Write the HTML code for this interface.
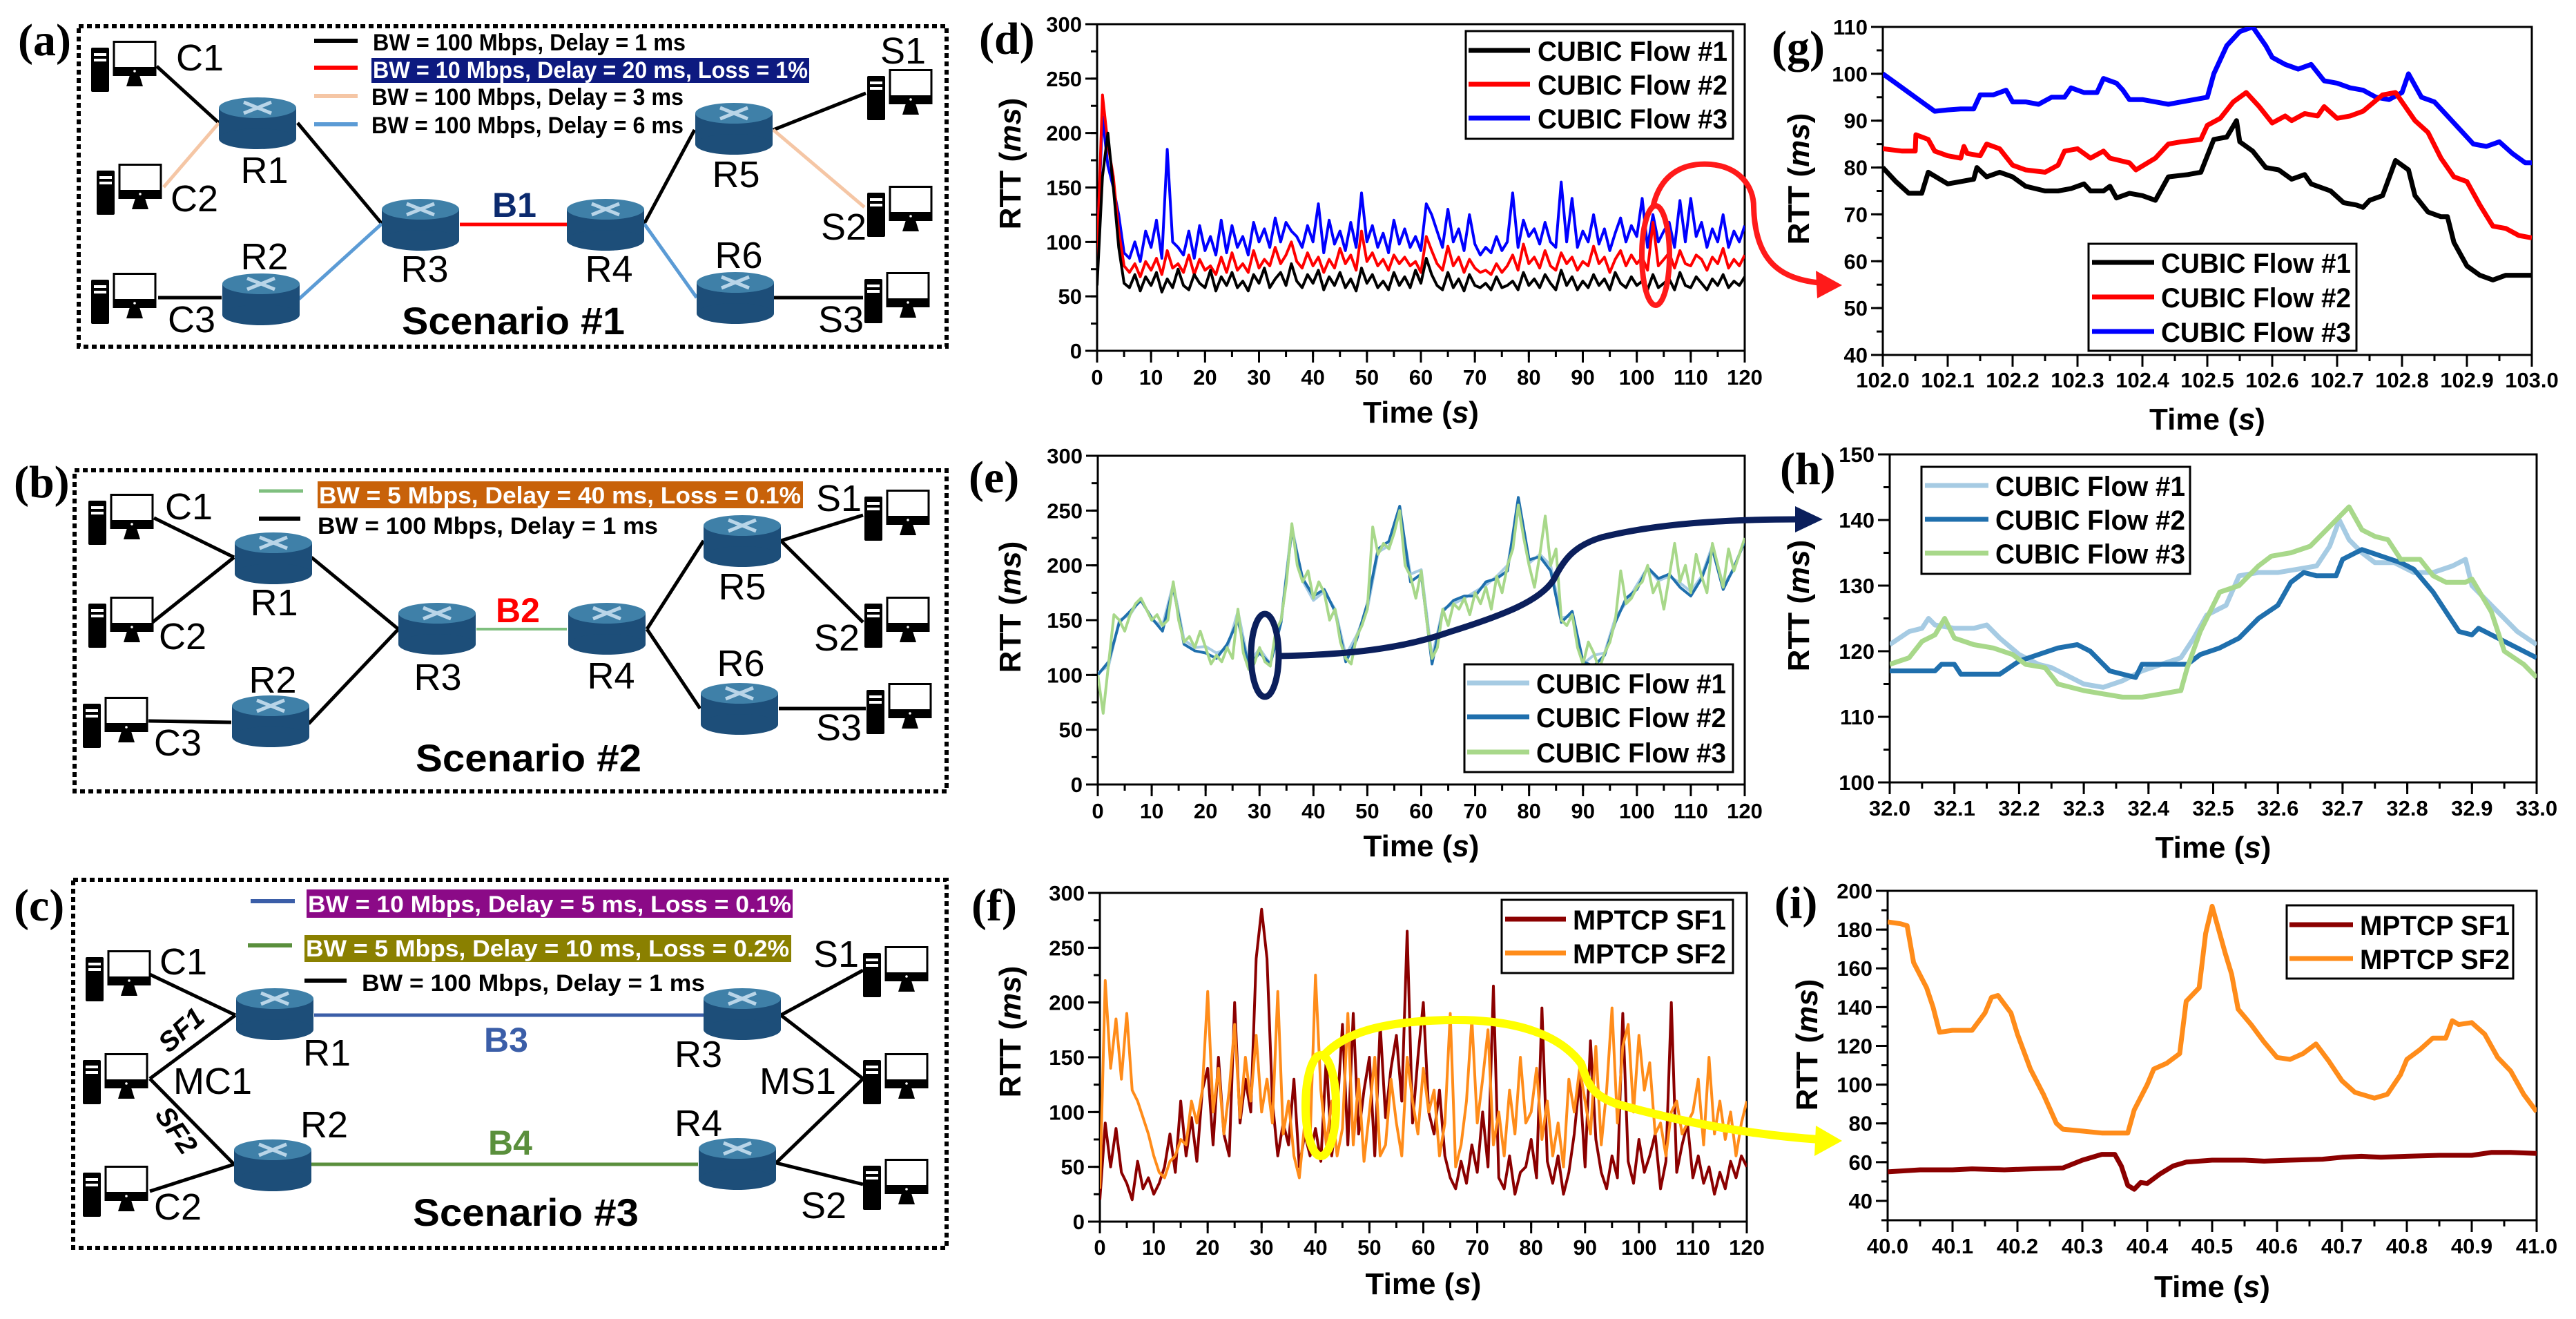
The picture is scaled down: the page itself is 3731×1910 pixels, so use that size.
<!DOCTYPE html>
<html><head><meta charset="utf-8"><title>RTT scenarios</title>
<style>
html,body{margin:0;padding:0;background:#fff;}
svg{display:block;font-family:"Liberation Sans",Arial,sans-serif;}
.node{font-size:54px;fill:#000;}
.leg{font-size:34px;font-weight:bold;}
.scn{font-size:56px;font-weight:bold;}
.plet{font-family:"Liberation Serif",serif;font-weight:bold;font-size:66px;}
.tick{font-size:31px;font-weight:bold;}
.atitle{font-size:44px;font-weight:bold;}
.ltxt{font-size:40px;font-weight:bold;}
</style></head>
<body>
<svg id="fig" xmlns="http://www.w3.org/2000/svg" width="3731" height="1910" viewBox="0 0 3731 1910">
<defs>
<symbol id="router" viewBox="0 0 112 75">
<rect x="0" y="15" width="112" height="45" fill="#1d4e79"/>
<ellipse cx="56" cy="60" rx="56" ry="15" fill="#1d4e79"/>
<ellipse cx="56" cy="15" rx="56" ry="15" fill="#3f80a8"/>
<path d="M36 7 L76 23 M76 7 L36 23" stroke="#b9d5e8" stroke-width="5"/>
</symbol>
<symbol id="pc" viewBox="0 0 95 74">
<rect x="0" y="10" width="26" height="64" rx="2" fill="#000"/>
<rect x="4" y="18" width="18" height="4" fill="#fff"/><rect x="4" y="26" width="18" height="4" fill="#fff"/>
<rect x="33" y="1.5" width="60" height="48" fill="#fff" stroke="#000" stroke-width="3"/>
<rect x="33" y="38" width="61" height="12" fill="#000"/>
<circle cx="63" cy="44" r="1.8" fill="#fff"/>
<polygon points="56,50 70,50 75,66 51,66" fill="#000"/>
</symbol>
</defs>

<!-- ===== Scenario 1 ===== -->
<g>
<rect x="114" y="38" width="1257" height="464" fill="none" stroke="#000" stroke-width="6" stroke-dasharray="7 5"/>
<text class="plet" x="26" y="80">(a)</text>
<g stroke-width="5" fill="none">
<line x1="227" y1="96" x2="317" y2="178" stroke="#000"/>
<line x1="237" y1="271" x2="317" y2="178" stroke="#f5c6a5"/>
<line x1="229" y1="431" x2="321" y2="431" stroke="#000"/>
<line x1="431" y1="178" x2="553" y2="324" stroke="#000"/>
<line x1="433" y1="433" x2="553" y2="324" stroke="#5b9bd5"/>
<line x1="666" y1="325" x2="821" y2="325" stroke="#ff0000"/>
<line x1="933" y1="324" x2="1006" y2="188" stroke="#000"/>
<line x1="933" y1="324" x2="1009" y2="431" stroke="#5b9bd5"/>
<line x1="1120" y1="188" x2="1254" y2="135" stroke="#000"/>
<line x1="1120" y1="188" x2="1252" y2="300" stroke="#f5c6a5"/>
<line x1="1121" y1="431" x2="1250" y2="431" stroke="#000"/>
</g>
<use href="#pc" x="132" y="59" width="95" height="74"/>
<use href="#pc" x="140" y="237" width="95" height="74"/>
<use href="#pc" x="132" y="395" width="95" height="74"/>
<use href="#pc" x="1256" y="100" width="95" height="74"/>
<use href="#pc" x="1256" y="269" width="95" height="74"/>
<use href="#pc" x="1252" y="394" width="95" height="74"/>
<use href="#router" x="317" y="141" width="112" height="75"/>
<use href="#router" x="322" y="396" width="112" height="75"/>
<use href="#router" x="553" y="288" width="112" height="75"/>
<use href="#router" x="821" y="288" width="112" height="75"/>
<use href="#router" x="1007" y="149" width="112" height="75"/>
<use href="#router" x="1009" y="394" width="112" height="75"/>
<text class="node" x="255" y="102">C1</text>
<text class="node" x="247" y="306">C2</text>
<text class="node" x="243" y="481">C3</text>
<text class="node" x="383" y="265" text-anchor="middle">R1</text>
<text class="node" x="383" y="390" text-anchor="middle">R2</text>
<text class="node" x="615" y="408" text-anchor="middle">R3</text>
<text class="node" x="882" y="408" text-anchor="middle">R4</text>
<text class="node" x="1066" y="271" text-anchor="middle">R5</text>
<text class="node" x="1070" y="388" text-anchor="middle">R6</text>
<text class="node" x="1308" y="92" text-anchor="middle">S1</text>
<text class="node" x="1222" y="347" text-anchor="middle">S2</text>
<text class="node" x="1218" y="481" text-anchor="middle">S3</text>
<text x="745" y="314" text-anchor="middle" font-size="50" font-weight="bold" fill="#0b2a6e">B1</text>
<g>
<line x1="455" y1="59" x2="518" y2="59" stroke="#000" stroke-width="6"/>
<line x1="455" y1="98" x2="518" y2="98" stroke="#ff0000" stroke-width="6"/>
<line x1="455" y1="139" x2="518" y2="139" stroke="#f5c6a5" stroke-width="6"/>
<line x1="455" y1="180" x2="518" y2="180" stroke="#5b9bd5" stroke-width="6"/>
<text class="leg" x="540" y="73" textLength="453" lengthAdjust="spacingAndGlyphs">BW = 100 Mbps, Delay = 1 ms</text>
<rect x="538" y="84" width="634" height="36" fill="#0d1a80"/>
<text class="leg" x="540" y="113" fill="#fff" textLength="630" lengthAdjust="spacingAndGlyphs">BW = 10 Mbps, Delay = 20 ms, Loss = 1%</text>
<text class="leg" x="538" y="152" textLength="452" lengthAdjust="spacingAndGlyphs">BW = 100 Mbps, Delay = 3 ms</text>
<text class="leg" x="538" y="193" textLength="452" lengthAdjust="spacingAndGlyphs">BW = 100 Mbps, Delay = 6 ms</text>
</g>
<text class="scn" x="582" y="484" textLength="323" lengthAdjust="spacingAndGlyphs">Scenario #1</text>
</g>

<!-- ===== Scenario 2 ===== -->
<g>
<rect x="108" y="681" width="1263" height="465" fill="none" stroke="#000" stroke-width="6" stroke-dasharray="7 5"/>
<text class="plet" x="20" y="720">(b)</text>
<g stroke-width="5" fill="none" stroke="#000">
<line x1="223" y1="750" x2="339" y2="807"/>
<line x1="221" y1="901" x2="339" y2="807"/>
<line x1="215" y1="1044" x2="335" y2="1046"/>
<line x1="451" y1="807" x2="577" y2="911"/>
<line x1="447" y1="1048" x2="577" y2="911"/>
<line x1="690" y1="911" x2="821" y2="911" stroke="#7fbf7f" stroke-width="4"/>
<line x1="937" y1="911" x2="1019" y2="783"/>
<line x1="937" y1="911" x2="1014" y2="1026"/>
<line x1="1131" y1="783" x2="1250" y2="746"/>
<line x1="1131" y1="783" x2="1250" y2="901"/>
<line x1="1128" y1="1026" x2="1254" y2="1026"/>
</g>
<use href="#pc" x="128" y="715" width="95" height="74"/>
<use href="#pc" x="128" y="864" width="95" height="74"/>
<use href="#pc" x="120" y="1009" width="95" height="74"/>
<use href="#pc" x="1252" y="709" width="95" height="74"/>
<use href="#pc" x="1252" y="864" width="95" height="74"/>
<use href="#pc" x="1255" y="989" width="95" height="74"/>
<use href="#router" x="340" y="771" width="112" height="75"/>
<use href="#router" x="336" y="1007" width="112" height="75"/>
<use href="#router" x="577" y="873" width="112" height="75"/>
<use href="#router" x="823" y="873" width="112" height="75"/>
<use href="#router" x="1019" y="746" width="112" height="75"/>
<use href="#router" x="1015" y="989" width="112" height="75"/>
<text class="node" x="239" y="752">C1</text>
<text class="node" x="230" y="940">C2</text>
<text class="node" x="223" y="1094">C3</text>
<text class="node" x="397" y="891" text-anchor="middle">R1</text>
<text class="node" x="395" y="1003" text-anchor="middle">R2</text>
<text class="node" x="634" y="999" text-anchor="middle">R3</text>
<text class="node" x="885" y="997" text-anchor="middle">R4</text>
<text class="node" x="1075" y="868" text-anchor="middle">R5</text>
<text class="node" x="1073" y="979" text-anchor="middle">R6</text>
<text class="node" x="1215" y="740" text-anchor="middle">S1</text>
<text class="node" x="1212" y="942" text-anchor="middle">S2</text>
<text class="node" x="1215" y="1072" text-anchor="middle">S3</text>
<text x="750" y="901" text-anchor="middle" font-size="50" font-weight="bold" fill="#ff0000">B2</text>
<g>
<line x1="375" y1="711" x2="439" y2="711" stroke="#7fbf7f" stroke-width="5"/>
<rect x="460" y="697" width="703" height="39" fill="#c8620a"/>
<text class="leg" x="462" y="729" fill="#fff" textLength="698" lengthAdjust="spacingAndGlyphs">BW = 5 Mbps, Delay = 40 ms, Loss = 0.1%</text>
<line x1="375" y1="751" x2="435" y2="751" stroke="#000" stroke-width="6"/>
<text class="leg" x="460" y="773" textLength="493" lengthAdjust="spacingAndGlyphs">BW = 100 Mbps, Delay = 1 ms</text>
</g>
<text class="scn" x="602" y="1117" textLength="327" lengthAdjust="spacingAndGlyphs">Scenario #2</text>
</g>

<!-- ===== Scenario 3 ===== -->
<g>
<rect x="106" y="1274" width="1265" height="533" fill="none" stroke="#000" stroke-width="6" stroke-dasharray="7 5"/>
<text class="plet" x="20" y="1333">(c)</text>
<g stroke-width="5" fill="none" stroke="#000">
<line x1="217" y1="1411" x2="341" y2="1470"/>
<line x1="217" y1="1562" x2="341" y2="1470"/>
<line x1="217" y1="1562" x2="339" y2="1686"/>
<line x1="217" y1="1725" x2="339" y2="1686"/>
<line x1="455" y1="1470" x2="1019" y2="1470" stroke="#3b5ea8"/>
<line x1="450" y1="1686" x2="1011" y2="1686" stroke="#5a8f3c"/>
<line x1="1131" y1="1470" x2="1250" y2="1405"/>
<line x1="1131" y1="1470" x2="1250" y2="1562"/>
<line x1="1124" y1="1684" x2="1250" y2="1562"/>
<line x1="1124" y1="1684" x2="1250" y2="1715"/>
</g>
<use href="#pc" x="124" y="1376" width="95" height="74"/>
<use href="#pc" x="120" y="1525" width="95" height="74"/>
<use href="#pc" x="120" y="1688" width="95" height="74"/>
<use href="#pc" x="1250" y="1370" width="95" height="74"/>
<use href="#pc" x="1250" y="1525" width="95" height="74"/>
<use href="#pc" x="1250" y="1678" width="95" height="74"/>
<use href="#router" x="342" y="1431" width="112" height="75"/>
<use href="#router" x="339" y="1650" width="112" height="75"/>
<use href="#router" x="1019" y="1431" width="112" height="75"/>
<use href="#router" x="1012" y="1648" width="112" height="75"/>
<text class="node" x="231" y="1411">C1</text>
<text class="node" x="251" y="1584">MC1</text>
<text class="node" x="223" y="1766">C2</text>
<text class="node" x="439" y="1543">R1</text>
<text class="node" x="435" y="1647">R2</text>
<text class="node" x="977" y="1545">R3</text>
<text class="node" x="977" y="1645">R4</text>
<text class="node" x="1100" y="1584">MS1</text>
<text class="node" x="1178" y="1400">S1</text>
<text class="node" x="1160" y="1764">S2</text>
<text x="263" y="1505" font-size="40" font-weight="bold" font-style="italic" text-anchor="middle" transform="rotate(-42 263 1492)">SF1</text>
<text x="255" y="1650" font-size="40" font-weight="bold" font-style="italic" text-anchor="middle" transform="rotate(55 255 1637)">SF2</text>
<text x="733" y="1523" text-anchor="middle" font-size="50" font-weight="bold" fill="#3b5ea8">B3</text>
<text x="739" y="1672" text-anchor="middle" font-size="50" font-weight="bold" fill="#5a8f3c">B4</text>
<g>
<line x1="363" y1="1305" x2="427" y2="1305" stroke="#3b5ea8" stroke-width="6"/>
<rect x="444" y="1288" width="704" height="41" fill="#8b0a87"/>
<text class="leg" x="446" y="1321" fill="#fff" textLength="700" lengthAdjust="spacingAndGlyphs">BW = 10 Mbps, Delay = 5 ms, Loss = 0.1%</text>
<line x1="359" y1="1369" x2="423" y2="1369" stroke="#5a8f3c" stroke-width="6"/>
<rect x="441" y="1354" width="705" height="39" fill="#8a8000"/>
<text class="leg" x="443" y="1385" fill="#fff" textLength="700" lengthAdjust="spacingAndGlyphs">BW = 5 Mbps, Delay = 10 ms, Loss = 0.2%</text>
<line x1="441" y1="1420" x2="502" y2="1420" stroke="#000" stroke-width="6"/>
<text class="leg" x="524" y="1435" textLength="497" lengthAdjust="spacingAndGlyphs">BW = 100 Mbps, Delay = 1 ms</text>
</g>
<text class="scn" x="598" y="1775" textLength="327" lengthAdjust="spacingAndGlyphs">Scenario #3</text>
</g>

<g id="charts"></g>

<!-- annotations -->
<g fill="none" stroke="#ff1a1a" stroke-width="8">
<ellipse cx="2398" cy="370" rx="20" ry="72"/>
<path d="M2394 300 C2405 250 2440 235 2478 238 C2520 242 2540 270 2540 300 C2542 380 2580 405 2640 410"/>
<polygon points="2668,413 2630,392 2632,432" fill="#ff1a1a" stroke="none"/>
</g>
<g fill="none" stroke="#0b1f5c" stroke-width="9">
<ellipse cx="1832" cy="949" rx="20" ry="60"/>
<path d="M1852 950 C1950 948 2030 940 2100 915 C2180 890 2230 870 2250 840 C2265 810 2280 790 2320 778 C2400 758 2500 752 2605 752"/>
<polygon points="2640,752 2600,733 2600,771" fill="#0b1f5c" stroke="none"/>
</g>
<g fill="none" stroke="#ffff00" stroke-width="12">
<ellipse cx="1913" cy="1601" rx="22" ry="73"/>
<path d="M1916 1530 C1950 1490 2020 1478 2103 1477 C2200 1476 2260 1500 2290 1540 C2300 1570 2305 1585 2340 1598 C2450 1630 2560 1645 2635 1650"/>
<polygon points="2668,1652 2630,1630 2628,1674" fill="#ffff00" stroke="none"/>
</g>
</svg>

<script>
// ---------- data: panel (d) CUBIC scenario 1, 0-120 s ----------
const dFlow1 = [60,160,200,150,95,62,58,70,55,68,60,72,54,66,58,75,60,56,70,62,58,74,55,68,60,72,58,64,55,70,62,76,58,66,72,60,80,64,58,70,62,74,56,68,60,72,58,66,55,76,62,70,58,64,56,72,60,68,58,74,62,85,70,60,56,72,58,66,55,70,60,58,62,56,68,58,60,64,56,72,60,66,58,70,62,56,74,60,68,56,64,58,70,60,66,56,72,62,58,68,60,64,56,70,58,62,66,56,72,60,58,68,62,56,66,60,70,58,64,60,68];
const dFlow2 = [85,235,190,160,110,78,72,80,68,82,74,85,70,92,76,80,72,88,70,84,74,78,70,86,72,90,74,80,72,92,76,84,78,95,80,88,100,82,76,90,78,86,72,84,76,94,80,88,74,110,82,90,78,84,74,88,80,86,78,82,72,105,92,80,74,96,78,86,72,84,76,72,74,70,80,72,78,88,74,98,80,86,76,92,78,74,90,80,86,74,82,78,96,80,86,72,84,92,78,88,80,86,74,118,78,84,90,76,92,80,78,88,84,74,86,80,94,76,84,78,88];
const dFlow3 = [95,215,170,150,125,90,85,100,82,110,95,120,85,185,100,95,88,110,85,115,92,105,88,120,90,115,95,105,88,118,100,112,95,122,100,118,110,105,95,115,100,135,90,120,98,110,92,118,95,145,100,115,95,108,90,120,98,112,95,105,92,135,125,110,95,130,100,112,92,125,98,88,95,90,105,92,100,145,95,120,105,112,98,118,100,95,155,100,140,95,110,100,125,98,112,92,108,122,100,115,105,140,95,125,100,110,118,95,138,100,140,105,118,95,112,100,125,95,110,100,115];
// ---------- panel (e) CUBIC scenario 2 ----------
const eFlow1 = [102,108,150,155,170,150,145,183,132,125,126,120,124,158,110,124,110,150,236,186,168,176,160,118,136,160,212,218,248,192,196,116,160,165,170,176,182,190,200,252,202,210,200,152,154,110,118,120,152,166,182,198,186,190,184,176,190,218,182,196,224];
const eFlow2 = [100,112,148,158,168,152,140,180,128,122,120,115,128,150,108,120,110,148,232,188,172,178,158,112,132,165,215,222,254,185,192,110,158,168,172,172,185,188,195,262,205,208,195,148,158,112,108,118,148,170,178,198,188,192,180,172,188,215,178,198,222];
const eFlow3 = [100,65,110,155,150,140,155,165,170,160,150,155,145,150,185,150,130,135,125,140,125,110,118,112,125,115,160,120,105,110,125,112,108,140,150,185,238,200,185,195,170,185,175,150,160,130,115,110,135,145,160,235,210,220,215,230,250,200,190,170,195,150,115,125,160,145,165,160,170,155,175,165,180,160,190,175,200,215,255,225,200,180,210,245,200,215,150,145,155,125,110,130,120,105,120,130,150,195,165,170,180,185,200,175,185,160,190,220,185,200,175,210,190,175,220,200,180,215,195,210,225];
// ---------- panel (f) MPTCP scenario 3 ----------
const fSF1 = [20,90,50,85,45,35,20,55,30,40,25,35,50,80,45,110,60,95,55,120,140,70,150,80,60,200,90,130,100,240,285,240,110,60,90,70,130,50,80,60,85,55,150,60,100,180,70,190,80,120,150,60,180,95,140,170,110,265,90,150,200,100,80,120,60,40,30,55,35,70,45,100,50,215,40,30,60,25,45,50,75,40,195,55,35,60,25,45,80,130,50,165,75,45,30,60,40,190,55,35,75,45,60,80,30,55,200,45,70,90,40,60,35,50,25,45,30,55,40,60,50];
const fSF2 = [30,220,140,185,130,190,120,110,95,80,60,45,40,55,60,75,70,110,90,120,210,100,140,80,120,180,95,150,110,170,100,130,90,210,80,110,60,40,90,75,225,120,70,110,60,85,190,70,130,55,100,150,60,70,130,90,60,150,110,80,140,100,120,60,90,190,50,70,110,185,90,130,175,70,100,60,120,80,150,90,100,140,75,110,60,90,50,130,100,140,110,80,160,70,120,195,90,160,180,100,170,120,145,80,90,60,100,110,80,90,100,130,70,150,80,110,75,100,60,90,110];
// ---------- panel (g) zoom 102-103 s ----------
const gT3 = [102.00,102.02,102.04,102.06,102.08,102.10,102.12,102.14,102.15,102.17,102.19,102.20,102.22,102.24,102.26,102.28,102.29,102.31,102.33,102.34,102.36,102.37,102.38,102.40,102.42,102.44,102.46,102.48,102.50,102.51,102.53,102.55,102.57,102.59,102.60,102.62,102.64,102.66,102.68,102.70,102.72,102.74,102.76,102.78,102.80,102.81,102.83,102.85,102.87,102.89,102.91,102.93,102.95,102.97,102.99,103.00];
const gFlow3 = [100,98,96,94,92,92.3,92.5,92.5,95.5,95.5,96.5,94,94,93.5,95,95,97,96,96,99,98,96.5,94.5,94.5,94,93.5,94,94.5,95,100,106,109,110,106,103.5,102,101,102,98.5,98,97,96.5,95,94.5,96,100,95,94,91,88,85,84.5,85.5,83,81,81];
const gT2 = [102.00,102.03,102.05,102.051,102.07,102.08,102.10,102.12,102.125,102.13,102.15,102.16,102.18,102.20,102.22,102.25,102.27,102.28,102.30,102.32,102.34,102.35,102.38,102.39,102.42,102.44,102.46,102.49,102.50,102.52,102.54,102.56,102.58,102.60,102.62,102.63,102.65,102.67,102.68,102.70,102.72,102.74,102.77,102.79,102.80,102.82,102.84,102.86,102.88,102.90,102.92,102.94,102.96,102.98,103.00];
const gFlow2 = [84,83.5,83.5,87,86,83.5,82.5,82,84.5,83,82.5,85,84,80.5,79.5,79,80.5,83.5,84,82,83.5,82,81,79.5,82,85,85.5,86,89,90.5,94,96,93,89.5,91,90,91.5,91,93,90.5,91,92,95.5,96,94,90,87.5,82,78,77,72,67.5,67,65.5,65];
const gT1 = [102.00,102.02,102.04,102.06,102.07,102.10,102.12,102.14,102.145,102.16,102.18,102.20,102.22,102.25,102.27,102.29,102.31,102.32,102.34,102.35,102.36,102.38,102.40,102.42,102.44,102.47,102.49,102.51,102.53,102.545,102.55,102.57,102.59,102.61,102.63,102.65,102.66,102.69,102.71,102.73,102.74,102.75,102.77,102.79,102.81,102.82,102.84,102.86,102.87,102.88,102.90,102.92,102.94,102.96,102.98,103.00];
const gFlow1 = [80,77,74.5,74.5,79,76.5,77,77.5,80,78,79,78,76,75,75,75.5,76.5,75,75,76,73.5,74.5,74,73,78,78.5,79,86,86.5,90,85.5,83.5,80,79.5,77.5,78.5,76.5,75,72.5,72,71.5,73,74,81.5,79.5,74,70.5,69.5,69.5,64,59,57,56,57,57,57];
// ---------- panel (h) zoom 32-33 s ----------
const hT1 = [32.00,32.03,32.05,32.06,32.07,32.10,32.13,32.15,32.17,32.20,32.23,32.25,32.28,32.30,32.33,32.36,32.39,32.42,32.45,32.47,32.49,32.52,32.54,32.57,32.60,32.63,32.66,32.68,32.695,32.71,32.73,32.75,32.78,32.81,32.84,32.87,32.89,32.90,32.93,32.95,32.97,33.00];
const hFlow1 = [121,123,123.5,125,124,123.5,123.5,124,122,119.5,118,117.5,116,115,114.5,115.5,117,118,119,122,125.5,127,131.5,132,132,132.5,133,136,140,137,135,133.5,133.5,132,132,133,134,130,127,125,123,121];
const hT2 = [32.00,32.04,32.07,32.08,32.10,32.11,32.14,32.17,32.20,32.23,32.26,32.29,32.31,32.34,32.38,32.39,32.42,32.46,32.48,32.51,32.54,32.57,32.60,32.62,32.64,32.66,32.69,32.70,32.73,32.76,32.79,32.81,32.84,32.86,32.88,32.90,32.91,32.94,32.97,33.00];
const hFlow2 = [117,117,117,118,118,116.5,116.5,116.5,118.5,119.5,120.5,121,120,117,116,118,118,118,119.5,120.5,122,125,127,130.5,132,131.5,131.5,134,135.5,134.5,133.5,132.5,129,126,123,122.5,123.5,122,120.5,119];
const hT3 = [32.00,32.03,32.05,32.07,32.085,32.10,32.13,32.16,32.19,32.21,32.24,32.26,32.30,32.33,32.36,32.39,32.42,32.45,32.46,32.48,32.51,32.54,32.57,32.59,32.62,32.65,32.68,32.71,32.73,32.75,32.77,32.79,32.82,32.84,32.86,32.89,32.90,32.93,32.95,32.98,33.00];
const hFlow3 = [118,119,121.5,122.5,125,122,121,120.5,119.5,118,117.5,115,114,113.5,113,113,113.5,114,117.5,123,129,130,133,134.5,135,136,139,142,138.5,137.5,137,134,134,131.5,130.5,130.5,131,126,120,118,116];
// ---------- panel (i) zoom 40-41 s ----------
const iT2 = [40.00,40.02,40.03,40.04,40.06,40.07,40.08,40.10,40.13,40.15,40.16,40.17,40.19,40.20,40.22,40.24,40.26,40.27,40.30,40.33,40.37,40.38,40.40,40.41,40.43,40.45,40.46,40.48,40.49,40.50,40.52,40.53,40.54,40.56,40.58,40.60,40.62,40.64,40.66,40.68,40.70,40.72,40.75,40.77,40.79,40.80,40.82,40.84,40.86,40.87,40.88,40.90,40.92,40.94,40.96,40.98,41.00];
const iSF2 = [184,183,182,163,150,140,127,128,128,137,145,146,137,126,108,95,80,77,76,75,75,87,100,108,111,116,143,150,178,192,168,157,139,131,122,114,113,116,121,112,102,96,93,95,105,113,118,124,124,133,131,132,126,114,107,95,86];
const iT1 = [40.00,40.05,40.10,40.13,40.18,40.22,40.27,40.30,40.33,40.35,40.36,40.37,40.38,40.39,40.40,40.42,40.44,40.46,40.50,40.55,40.58,40.62,40.67,40.70,40.73,40.76,40.80,40.85,40.90,40.93,40.96,41.00];
const iSF1 = [55,56,56,56.5,56,56.5,57,61,64,64,58,48,46,49.5,49,54,58,60,61,61,60.5,61,61.5,62.5,63,62.5,63,63.5,63.5,65,65,64.5];
// ---------- tick labels ----------
const longXTicks = [0,10,20,30,40,50,60,70,80,90,100,110,120];
const longYTicks = [0,50,100,150,200,250,300];
const gXTicks = [102.0,102.1,102.2,102.3,102.4,102.5,102.6,102.7,102.8,102.9,103.0];
const gYTicks = [40,50,60,70,80,90,100,110];
const hXTicks = [32.0,32.1,32.2,32.3,32.4,32.5,32.6,32.7,32.8,32.9,33.0];
const hYTicks = [100,110,120,130,140,150];
const iXTicks = [40.0,40.1,40.2,40.3,40.4,40.5,40.6,40.7,40.8,40.9,41.0];
const iYTicks = [40,60,80,100,120,140,160,180,200];

const NS = 'http://www.w3.org/2000/svg';
function mk(parent, tag, attrs){const e=document.createElementNS(NS,tag);for(const k in attrs)e.setAttribute(k,attrs[k]);parent.appendChild(e);return e;}
const root = document.getElementById('charts');
const defs = document.querySelector('defs');

function makeChart(c){
  const g = mk(root,'g',{});
  
  
  c.sx = v => c.L + (v - c.xd[0])/(c.xd[1]-c.xd[0])*(c.R - c.L);
  c.sy = v => c.B - (v - c.yd[0])/(c.yd[1]-c.yd[0])*(c.B - c.T);
  const cp = mk(defs,'clipPath',{id:'clip-'+c.id});
  mk(cp,'rect',{x:c.L,y:c.T,width:c.R-c.L,height:c.B-c.T});
  c.g = g;
  for(let k=0; ; k++){const v=c.xd[0]+k*c.xminor; if(v>c.xd[1]+1e-9)break; const x=c.sx(v); mk(g,'line',{x1:x,x2:x,y1:c.B,y2:c.B+9,stroke:'#000','stroke-width':3});}
  for(let k=0; ; k++){const v=c.yd[0]+k*c.yminor; if(v>c.yd[1]+1e-9)break; const y=c.sy(v); mk(g,'line',{x1:c.L,x2:c.L-9,y1:y,y2:y,stroke:'#000','stroke-width':3});}
  c.xticks.forEach(v=>{
    const x=c.sx(v);
    mk(g,'line',{x1:x,x2:x,y1:c.B,y2:c.B+17,stroke:'#000','stroke-width':3});
    const t=mk(g,'text',{x:x,y:c.labY,'text-anchor':'middle',class:'tick'});
    t.textContent = c.xfmt(v);
    
    
  });
  c.yticks.forEach(v=>{
    const y=c.sy(v);
    mk(g,'line',{x1:c.L,x2:c.L-17,y1:y,y2:y,stroke:'#000','stroke-width':3});
    const t=mk(g,'text',{x:c.L-22,y:y+11,'text-anchor':'end',class:'tick'});
    t.textContent = String(v);
    
    
  });
  const frame = mk(g,'rect',{x:c.L,y:c.T,width:c.R-c.L,height:c.B-c.T,fill:'none',stroke:'#000','stroke-width':3});
  
  
  const xt = mk(g,'text',{x:(c.L+c.R)/2,y:c.titleY,'text-anchor':'middle',class:'atitle'});
  xt.innerHTML = 'Time (<tspan font-style="italic">s</tspan>)';
  
  
  const yt = mk(g,'text',{x:c.ytX,y:c.ytY,'text-anchor':'middle',class:'atitle',transform:'rotate(-90 '+c.ytX+' '+c.ytY+')'});
  yt.innerHTML = 'RTT (<tspan font-style="italic">ms</tspan>)';
  
  
  const pl = mk(g,'text',{x:c.letX,y:c.letY,class:'plet'});
  pl.textContent = '('+c.id+')';
  
  
  return c;
}
function series(c, ts, vs, color, w, name){
  let d=''; const n=vs.length;
  for(let i=0;i<n;i++){
    const t = ts ? ts[i] : c.xd[0] + i*(c.xd[1]-c.xd[0])/(n-1);
    d += (i?'L':'M') + c.sx(t).toFixed(1) + ' ' + c.sy(vs[i]).toFixed(1);
  }
  const p = mk(c.g,'path',{d:d,fill:'none',stroke:color,'stroke-width':w,'stroke-linejoin':'round','clip-path':'url(#clip-'+c.id+')'});
  
  
}
function legend(c, box, lineX, textX, rowYs, labels, colors, tlen){
  const lg = mk(c.g,'g',{});
  
  
  mk(lg,'rect',{x:box[0],y:box[1],width:box[2],height:box[3],fill:'#fff',stroke:'#000','stroke-width':3});
  labels.forEach((lab,i)=>{
    const ent = mk(lg,'g',{});
    
    
    mk(ent,'line',{x1:lineX[0],x2:lineX[1],y1:rowYs[i],y2:rowYs[i],stroke:colors[i],'stroke-width':7});
    const t = mk(ent,'text',{x:textX,y:rowYs[i]+15,class:'ltxt',textLength:tlen,lengthAdjust:'spacingAndGlyphs'});
    t.textContent = lab;
  });
}
const int0 = v => String(Math.round(v));
const fix1 = v => v.toFixed(1);

const cd = makeChart({id:'d',L:1589,R:2527,T:35,B:508,xd:[0,120],yd:[0,300],xticks:longXTicks,yticks:longYTicks,xminor:5,yminor:25,xfmt:int0,labY:557,titleY:612,ytX:1478,ytY:237,letX:1418,letY:78});
series(cd,null,dFlow3,'#0000ff',4,'series-cubic-flow-3');
series(cd,null,dFlow2,'#ff0000',4,'series-cubic-flow-2');
series(cd,null,dFlow1,'#000000',4,'series-cubic-flow-1');
legend(cd,[2123,45,387,156],[2127,2216],2227,[73,122,171],['CUBIC Flow #1','CUBIC Flow #2','CUBIC Flow #3'],['#000','#ff0000','#0000ff'],275);

const ce = makeChart({id:'e',L:1590,R:2527,T:660,B:1136,xd:[0,120],yd:[0,300],xticks:longXTicks,yticks:longYTicks,xminor:5,yminor:25,xfmt:int0,labY:1185,titleY:1240,ytX:1478,ytY:879,letX:1403,letY:713});
series(ce,null,eFlow1,'#a6cbe3',4,'series-cubic-flow-1');
series(ce,null,eFlow2,'#1f6fad',4,'series-cubic-flow-2');
series(ce,null,eFlow3,'#a8d88a',4,'series-cubic-flow-3');
legend(ce,[2121,962,389,156],[2125,2215],2225,[989,1038,1089],['CUBIC Flow #1','CUBIC Flow #2','CUBIC Flow #3'],['#a6cbe3','#1f6fad','#a8d88a'],275);

const cf = makeChart({id:'f',L:1593,R:2530,T:1293,B:1769,xd:[0,120],yd:[0,300],xticks:longXTicks,yticks:longYTicks,xminor:5,yminor:25,xfmt:int0,labY:1817,titleY:1874,ytX:1478,ytY:1494,letX:1407,letY:1333});
series(cf,null,fSF1,'#8b0000',4,'series-mptcp-sf1');
series(cf,null,fSF2,'#ff8c1a',4,'series-mptcp-sf2');
legend(cf,[2175,1303,335,106],[2180,2268],2278,[1331,1380],['MPTCP SF1','MPTCP SF2'],['#8b0000','#ff8c1a'],222);

const cg = makeChart({id:'g',L:2727,R:3667,T:39,B:514,xd:[102,103],yd:[40,110],xticks:gXTicks,yticks:gYTicks,xminor:0.05,yminor:5,xfmt:fix1,labY:561,titleY:622,ytX:2620,ytY:259,letX:2566,letY:90});
series(cg,gT3,gFlow3,'#0000ff',7,'series-cubic-flow-3');
series(cg,gT2,gFlow2,'#ff0000',7,'series-cubic-flow-2');
series(cg,gT1,gFlow1,'#000000',7,'series-cubic-flow-1');
legend(cg,[3025,353,388,155],[3030,3120],3130,[380,430,480],['CUBIC Flow #1','CUBIC Flow #2','CUBIC Flow #3'],['#000','#ff0000','#0000ff'],275);

const ch = makeChart({id:'h',L:2737,R:3674,T:658,B:1133,xd:[32,33],yd:[100,150],xticks:hXTicks,yticks:hYTicks,xminor:0.05,yminor:5,xfmt:fix1,labY:1181,titleY:1242,ytX:2620,ytY:877,letX:2578,letY:701});
series(ch,hT1,hFlow1,'#a6cbe3',7,'series-cubic-flow-1');
series(ch,hT2,hFlow2,'#1f6fad',7,'series-cubic-flow-2');
series(ch,hT3,hFlow3,'#a8d88a',7,'series-cubic-flow-3');
legend(ch,[2783,676,389,155],[2788,2880],2890,[703,752,801],['CUBIC Flow #1','CUBIC Flow #2','CUBIC Flow #3'],['#a6cbe3','#1f6fad','#a8d88a'],275);

const ci = makeChart({id:'i',L:2734,R:3674,T:1290,B:1767,xd:[40,41],yd:[30,200],xticks:iXTicks,yticks:iYTicks,xminor:0.05,yminor:10,xfmt:fix1,labY:1815,titleY:1878,ytX:2632,ytY:1513,letX:2570,letY:1329});
series(ci,iT2,iSF2,'#ff8c1a',7,'series-mptcp-sf2');
series(ci,iT1,iSF1,'#8b0000',7,'series-mptcp-sf1');
legend(ci,[3312,1311,328,106],[3316,3408],3418,[1339,1388],['MPTCP SF1','MPTCP SF2'],['#8b0000','#ff8c1a'],217);
</script>
</body></html>
